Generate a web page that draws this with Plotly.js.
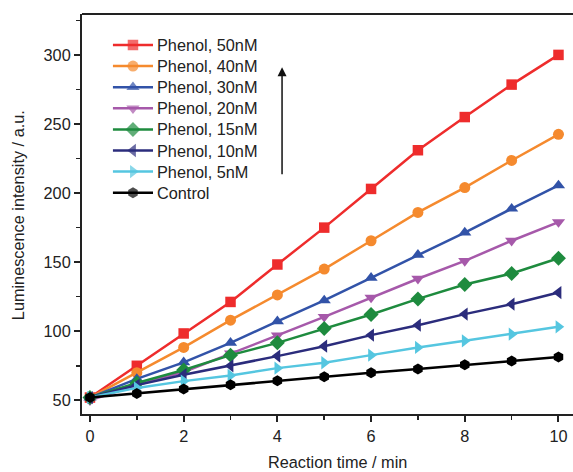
<!DOCTYPE html>
<html>
<head>
<meta charset="utf-8">
<script src="https://cdn.plot.ly/plotly-3.0.1.min.js"></script>
<style>html,body{margin:0;padding:0;background:#fff;}#chart{width:573px;height:472px;}</style>
</head>
<body>
<div id="chart"></div>
<script>
const time = [0, 1, 2, 3, 4, 5, 6, 7, 8, 9, 10];
const seriesNames = ["Phenol, 50nM", "Phenol, 40nM", "Phenol, 30nM", "Phenol, 20nM", "Phenol, 15nM", "Phenol, 10nM", "Phenol, 5nM", "Control"];
const phenol50 = [52, 75, 98.4, 121.2, 148.3, 175, 203, 231, 255, 278.5, 300];
const phenol40 = [52, 70, 88.3, 108, 126.3, 145, 165.5, 186, 204, 223.6, 242.5];
const phenol30 = [52, 65.5, 77.5, 91.6, 107.2, 122.3, 138.7, 155.3, 171.4, 188.7, 205.5];
const phenol20 = [50, 61, 70.5, 84, 97, 110.4, 124.4, 138, 150.9, 165.5, 179];
const phenol15 = [52, 62.5, 71.9, 82.7, 91.6, 102, 112.1, 123.4, 133.8, 141.8, 152.8];
const phenol10 = [52, 61, 68.5, 75, 82, 89.2, 97.2, 104.4, 112.4, 119.6, 128];
const phenol5 = [52, 59, 63.9, 68, 73.3, 77.2, 82.7, 88.3, 93.1, 97.9, 103.2];
const control = [52, 55, 58.2, 61.3, 64.2, 67, 70, 72.6, 75.7, 78.4, 81.3];

const seriesValues = [phenol50, phenol40, phenol30, phenol20, phenol15, phenol10, phenol5, control];
const colors = ["#EE2C2C", "#F58A2E", "#3253A8", "#A659AA", "#1E8B3E", "#2B2C7C", "#55C6E0", "#000000"];
const symbols = ["square", "circle", "triangle-up", "triangle-down", "diamond", "triangle-left", "triangle-right", "hexagon"];
const sizes = [10.5, 11, 11.5, 11.5, 11.5, 11.5, 11.5, 11];

const fam = "Arial, 'Liberation Sans', sans-serif";
const txt = "#222";

const traces = seriesValues.map((vals, i) => ({
  x: time, y: vals, name: seriesNames[i], type: "scatter", mode: "lines+markers",
  showlegend: false,
  line: {color: colors[i], width: 2.5},
  marker: {color: colors[i], symbol: symbols[i], size: sizes[i], line: {width: 0}}
}));

// custom legend (drawn on an overlay axis spanning 0..1 of the plot area)
const legX0 = 0.063, legX1 = 0.1446, legText = 0.1486;
const legTop = 45, legStep = 21.1, plotTopPx = 14, plotH = 400;
const annotations = [];
seriesNames.forEach((nm, i) => {
  const yp = 1 - ((legTop + i * legStep) - plotTopPx) / plotH;
  traces.push({
    x: [legX0, (legX0 + legX1) / 2, legX1], y: [yp, yp, yp],
    xaxis: "x2", yaxis: "y2", type: "scatter", mode: "lines+markers", showlegend: false,
    line: {color: colors[i], width: 2.5},
    marker: {color: colors[i], symbol: symbols[i], size: [0, sizes[i], 0], line: {width: 0}}
  });
  annotations.push({x: legText, y: yp, xref: "paper", yref: "paper", xanchor: "left", yanchor: "middle",
    text: nm, showarrow: false, font: {family: fam, size: 16.3, color: txt}});
});

annotations.push({x: 4.1, y: 291, ax: 4.1, ay: 212.5, xref: "x", yref: "y", axref: "x", ayref: "y",
  text: "", showarrow: true, arrowhead: 2, arrowsize: 1.2, arrowwidth: 1.5, arrowcolor: "#111"});
annotations.push({x: 0.521, y: -0.12, xref: "paper", yref: "paper", xanchor: "center", yanchor: "middle",
  text: "Reaction time / min", showarrow: false, font: {family: fam, size: 16.3, color: txt}});
annotations.push({x: -0.130, y: 0.4975, xref: "paper", yref: "paper", xanchor: "center", yanchor: "middle",
  textangle: -90, text: "Luminescence intensity / a.u.", showarrow: false, font: {family: fam, size: 16.3, color: txt}});

const layout = {
  width: 573, height: 472,
  margin: {l: 82, r: 0, t: 14, b: 58},
  paper_bgcolor: "#fff", plot_bgcolor: "#fff",
  font: {family: fam, size: 16, color: txt},
  showlegend: false,
  xaxis: {
    range: [-0.17, 10.31], showgrid: false, zeroline: false,
    showline: true, linecolor: "#222", linewidth: 2,
    ticks: "outside", ticklen: 6, tickwidth: 2, tickcolor: "#222",
    tickvals: [0, 2, 4, 6, 8, 10],
    minor: {tickvals: [1, 3, 5, 7, 9], ticks: "outside", ticklen: 4, tickwidth: 1.5, tickcolor: "#222"},
    tickfont: {family: fam, size: 16.3, color: txt}
  },
  yaxis: {
    range: [40.1, 329.6], showgrid: false, zeroline: false,
    showline: true, linecolor: "#222", linewidth: 2,
    ticks: "outside", ticklen: 6, tickwidth: 2, tickcolor: "#222",
    tickvals: [50, 100, 150, 200, 250, 300],
    minor: {tickvals: [75, 125, 175, 225, 275, 325], ticks: "outside", ticklen: 4, tickwidth: 1.5, tickcolor: "#222"},
    tickfont: {family: fam, size: 16.3, color: txt}
  },
  xaxis2: {overlaying: "x", range: [0, 1], visible: false, fixedrange: true},
  yaxis2: {overlaying: "y", range: [0, 1], visible: false, fixedrange: true},
  shapes: [
    {type: "line", xref: "paper", yref: "paper", x0: 0, x1: 1, y0: 1, y1: 1, line: {color: "#222", width: 2}}
  ],
  annotations: annotations
};
Plotly.newPlot("chart", traces, layout, {displayModeBar: false, staticPlot: true});
</script>
</body>
</html>
